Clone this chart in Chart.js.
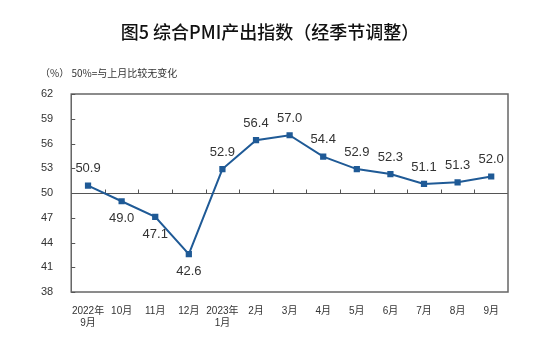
<!DOCTYPE html>
<html>
<head>
<meta charset="utf-8">
<script src="https://cdn.jsdelivr.net/npm/chart.js@4/dist/chart.umd.min.js"></script>
<style>
  html, body { margin: 0; padding: 0; background: #fff; }
  #wrap { width: 550px; height: 345px; }
</style>
</head>
<body>
<div id="wrap"><canvas id="c"></canvas></div>
<script>
// 月份标签
const months = [
  ["2022年", "9月"], "10月", "11月", "12月", ["2023年", "1月"],
  "2月", "3月", "4月", "5月", "6月", "7月", "8月", "9月"
];
// 综合PMI产出指数
const pmi = [50.9, 49.0, 47.1, 42.6, 52.9, 56.4, 57.0, 54.4, 52.9, 52.3, 51.1, 51.3, 52.0];
// 标签位置：1 = 上方, -1 = 下方
const labelSide = [1, -1, -1, -1, 1, 1, 1, 1, 1, 1, 1, 1, 1];
const yTicks = [38, 41, 44, 47, 50, 53, 56, 59, 62];

const titleText = "图5 综合PMI产出指数（经季节调整）";
const noteText = "（%） 50%=与上月比较无变化";

const cjk = "'Liberation Sans', 'Noto Sans CJK SC', sans-serif";

// 标题、边框、50线和数据标签
const decor = {
  id: "decor",
  beforeDatasetsDraw(chart) {
    const { ctx, chartArea: a, scales } = chart;
    ctx.save();
    // 50% 参考线
    const y50 = Math.round(scales.y.getPixelForValue(50)) + 0.5;
    ctx.strokeStyle = "#555";
    ctx.lineWidth = 1;
    ctx.beginPath();
    ctx.moveTo(a.left, y50);
    ctx.lineTo(a.right, y50);
    // 分类间的小刻度
    for (let i = 1; i < months.length; i++) {
      const x = (scales.x.getPixelForValue(i - 1) + scales.x.getPixelForValue(i)) / 2;
      ctx.moveTo(Math.round(x) + 0.5, y50);
      ctx.lineTo(Math.round(x) + 0.5, y50 - 4);
    }
    ctx.stroke();
    // 外框
    ctx.strokeStyle = "#666";
    ctx.lineWidth = 1.5;
    ctx.strokeRect(a.left, a.top, a.right - a.left, a.bottom - a.top);
    // y 轴刻度
    ctx.strokeStyle = "#555";
    ctx.lineWidth = 1;
    ctx.beginPath();
    yTicks.forEach(v => {
      const y = Math.round(scales.y.getPixelForValue(v)) + 0.5;
      ctx.moveTo(a.left, y);
      ctx.lineTo(a.left + 4, y);
    });
    ctx.stroke();
    ctx.restore();
  },
  afterDatasetsDraw(chart) {
    const { ctx } = chart;
    const meta = chart.getDatasetMeta(0);
    ctx.save();
    ctx.fillStyle = "#333";
    ctx.font = "13px 'Liberation Sans', Arial, sans-serif";
    ctx.textAlign = "center";
    ctx.textBaseline = "middle";
    meta.data.forEach((pt, i) => {
      const dy = labelSide[i] > 0 ? -17 : 17;
      ctx.fillText(pmi[i].toFixed(1), pt.x, pt.y + dy);
    });
    ctx.restore();
  },
  afterDraw(chart) {
    const { ctx } = chart;
    ctx.save();
    ctx.fillStyle = "#111";
    ctx.textAlign = "center";
    ctx.textBaseline = "middle";
    ctx.font = "500 18px 'Noto Sans CJK SC', sans-serif";
    ctx.fillText(titleText, 270, 32);
    ctx.fillStyle = "#333";
    ctx.textAlign = "left";
    ctx.font = "10px 'Noto Sans CJK SC', sans-serif";
    ctx.fillText(noteText, 40, 73);
    ctx.restore();
  }
};

new Chart(document.getElementById("c"), {
  type: "line",
  data: {
    labels: months,
    datasets: [{
      data: pmi,
      borderColor: "#1f5a96",
      backgroundColor: "#1f5a96",
      borderWidth: 2,
      pointStyle: "rect",
      pointRadius: 3,
      pointHoverRadius: 3,
      tension: 0,
      fill: false
    }]
  },
  options: {
    responsive: true,
    maintainAspectRatio: false,
    animation: false,
    events: [],
    layout: { padding: { top: 94, right: 42, left: 31, bottom: 11 } },
    plugins: {
      legend: { display: false },
      tooltip: { enabled: false }
    },
    scales: {
      x: {
        offset: true,
        grid: { display: false },
        border: { display: false },
        ticks: {
          color: "#333",
          font: { family: cjk, size: 10 },
          maxRotation: 0,
          autoSkip: false,
          padding: 5
        }
      },
      y: {
        min: 38,
        max: 62,
        afterBuildTicks(scale) {
          scale.ticks = yTicks.map(v => ({ value: v }));
        },
        grid: { display: false },
        border: { display: false },
        ticks: {
          color: "#333",
          font: { family: "'Liberation Sans', Arial, sans-serif", size: 11 },
          padding: 10
        }
      }
    }
  },
  plugins: [decor]
});
</script>
</body>
</html>
